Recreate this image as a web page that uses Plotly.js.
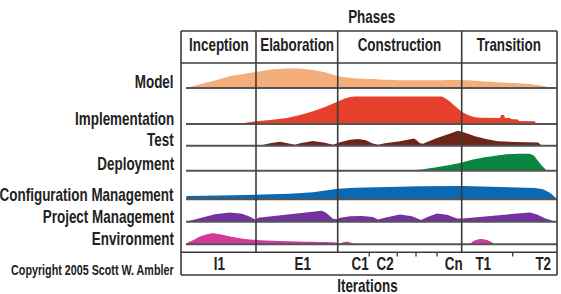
<!DOCTYPE html>
<html>
<head>
<meta charset="utf-8">
<script src="https://cdn.plot.ly/plotly-3.0.1.min.js"></script>
<style>html,body{margin:0;padding:0;background:#fff;}#chart{width:561px;height:294px;}</style>
</head>
<body>
<div id="chart"></div>
<script>
// ---------------- DATA ----------------
// timeline positions (project time units, 0..376) and effort heights per discipline
const disciplines = ['Model', 'Implementation', 'Test', 'Deployment', 'Configuration Management', 'Project Management', 'Environment'];

const modelX = [5, 20, 32, 50, 75, 90, 106, 120, 132, 145, 157, 170, 189, 217, 250, 280, 317, 350, 365, 371];
const modelY = [0, 4, 7, 12, 16, 18.5, 19.5, 19.3, 18, 15.5, 12, 10, 9, 7.8, 7.7, 8, 5.7, 3.7, 1.5, 0];

const implX = [56, 59, 75, 89, 106, 119, 132, 144, 157, 164, 169, 174, 261, 267, 274, 281, 287, 293, 299, 319, 320, 323, 324, 329, 330, 337, 338, 354, 355];
const implY = [0, 0.5, 2.7, 4, 6, 9, 12.7, 17, 22.7, 25.5, 27, 27.6, 27.6, 24, 18, 12, 9, 7, 6.3, 6, 9, 9, 6, 6, 5, 4.5, 3, 2.7, 0];

const testX = [65, 81, 89, 99, 109, 114, 119, 132, 144, 152, 159, 169, 177, 185, 191, 197, 204, 219, 233, 235, 239, 242, 254, 266, 277, 284, 294, 306, 317, 334, 357, 361];
const testY = [0, 0.5, 2.5, 4, 2, 1, 2.5, 4.7, 3, 1, 3.5, 6, 6.7, 5.5, 2.5, 1, 2.5, 4.5, 7.3, 6, 2.5, 2, 7, 11, 15, 13, 9.5, 6.5, 4.5, 3.7, 3.3, 0];

const deployX = [231, 249, 264, 281, 291, 301, 314, 324, 339, 349, 353, 357, 361, 366];
const deployY = [0, 2.5, 5, 8.3, 11, 13, 15, 16.3, 17, 16.8, 15, 10, 5, 0];

const configX = [5, 5.5, 39, 75, 109, 132, 149, 157, 174, 199, 239, 281, 299, 332, 354, 362, 369, 373, 376];
const configY = [0, 3.3, 3.8, 4.3, 5.5, 7, 9.5, 10.5, 11.5, 12.2, 13, 13.3, 12.8, 12, 11.3, 10, 6.5, 3, 0];

const pmX = [5, 19, 34, 49, 61, 69, 75, 77, 109, 137, 141, 145, 152, 156, 159, 169, 181, 192, 197, 206, 219, 231, 240, 247, 256, 266, 276, 282, 309, 334, 349, 356, 364, 372, 375];
const pmY = [0, 3.5, 7.5, 9.3, 8, 5, 1.7, 4, 7.5, 11, 11, 9, 3, 2.5, 4, 5.5, 5.7, 4.7, 2.3, 4.5, 7.3, 5.5, 1.7, 5, 8.3, 7, 3.3, 3.3, 5.5, 8, 9.3, 7.3, 3.5, 0.7, 0];

const envX = [5, 5.5, 12, 19, 26, 32, 39, 49, 62, 75, 99, 129, 155, 159, 163, 167, 172, 289, 293, 299, 305, 310, 313];
const envY = [0, 1, 4, 7.7, 10, 11, 10, 7.7, 5.5, 4.3, 3.3, 2.5, 1.7, 0.8, 2.2, 2.5, 0.8, 0.8, 3.5, 5.3, 4.5, 2.5, 0];

const phases = ['Inception', 'Elaboration', 'Construction', 'Transition'];
const phaseBounds = [0, 75, 156.7, 280.7, 376];

const iterLabels = ['I1', 'E1', 'C1', 'C2', 'Cn', 'T1', 'T2'];
const iterPos = [38, 121.7, 179, 204, 272, 302, 362];
const iterTicks = [188.3, 216.3, 235, 256, 331.7];

const chartTitle = 'Phases';
const xTitle = 'Iterations';
const copyright = 'Copyright 2005 Scott W. Ambler';

// ---------------- FONT ----------------
const FONT = '"Liberation Sans", Arial, sans-serif';
const FS = 17.5;            // font size (tall, condensed look)
const cv = document.createElement('canvas').getContext('2d');
cv.font = 'bold ' + FS + 'px ' + FONT;
const SX = Math.min(1, 174 / cv.measureText('Configuration Management').width);  // horizontal condensing

// ---------------- STYLE / LAYOUT ----------------
const colors = ['#F4AE7C', '#E5402B', '#6C2619', '#0B8642', '#0A69B2', '#7432A0', '#D43A9E'];
const lineShapes = ['spline', 'linear', 'linear', 'spline', 'linear', 'linear', 'spline'];
const seriesX = [modelX, implX, testX, deployX, configX, pmX, envX];
const seriesY = [modelY, implY, testY, deployY, configY, pmY, envY];

const W = 561, H = 294;
const L = 181, R = 557, T = 31, B = 275;
const PW = R - L, PH = B - T;
const px = p => (p - L) / PW;      // pixel -> paper x
const py = p => (B - p) / PH;      // pixel -> paper y
const rowBase = [88, 124, 145.7, 170.7, 199.3, 221.7, 244.3];
const labelY = [82, 119, 140, 164, 195, 216.5, 238.5];
const ROWH = 32;

const TXT = '#222';
const FRAME = '#3a3a3a';

const traces = seriesX.map((xs, i) => ({
  type: 'scatter', mode: 'lines', x: xs, y: seriesY[i],
  xaxis: 'x', yaxis: i === 0 ? 'y' : 'y' + (i + 1),
  fill: 'tozeroy', fillcolor: colors[i],
  line: {width: 0, color: colors[i], shape: lineShapes[i], smoothing: 0.6},
  hoverinfo: 'skip', name: disciplines[i]
}));

const layout = {
  width: W, height: H,
  margin: {l: L, r: W - R, t: T, b: H - B, pad: 0},
  paper_bgcolor: '#fff', plot_bgcolor: 'rgba(0,0,0,0)',
  showlegend: false,
  xaxis: {range: [0, PW], visible: false, fixedrange: true},
  shapes: [], annotations: []
};
rowBase.forEach((b, i) => {
  const key = i === 0 ? 'yaxis' : 'yaxis' + (i + 1);
  const d0 = py(b);
  layout[key] = {domain: [d0, Math.min(1, d0 + ROWH / PH)], range: [0, ROWH], visible: false, fixedrange: true};
});

function line(x0, y0, x1, y1, color, width) {
  layout.shapes.push({type: 'line', xref: 'paper', yref: 'paper', x0: px(x0), y0: py(y0), x1: px(x1), y1: py(y1),
    line: {color: color, width: width}, layer: 'above'});
}
rowBase.forEach(b => line(186, b, R, b, '#555', 2));
line(L, T, R, T, FRAME, 1.6);
line(L, 63, R, 63, FRAME, 1.6);
line(L, 252.3, R, 252.3, FRAME, 1.6);
line(L, B, R, B, FRAME, 1.6);
line(L, T, L, B, FRAME, 1.6);
line(R, T, R, B, FRAME, 1.6);
phaseBounds.slice(1, -1).forEach(v => line(L + v, T, L + v, 252.3, FRAME, 1.6));
iterTicks.forEach(v => line(L + v, 252.3, L + v, 256.5, FRAME, 1.3));

const anchors = [];
function ann(text, x, y, size, xanchor) {
  anchors.push(xanchor || 'center');
  layout.annotations.push({text: text, xref: 'paper', yref: 'paper', x: x, y: y,
    xanchor: xanchor || 'center', yanchor: 'middle', showarrow: false, borderpad: 0,
    font: {family: FONT, size: size, color: TXT, weight: 'bold'}});
}
disciplines.forEach((d, i) => ann(d, px(175), py(labelY[i]), FS, 'right'));
phases.forEach((p, i) => ann(p, px(L + (phaseBounds[i] + phaseBounds[i + 1]) / 2), py(45), FS));
iterLabels.forEach((t, i) => ann(t, px(L + iterPos[i]), py(264), FS));
ann(chartTitle, px(371.5), py(17), FS);
ann(xTitle, px(367), py(286), FS);
ann(copyright, px(10), py(270), 14, 'left');

Plotly.newPlot('chart', traces, layout, {staticPlot: true, displayModeBar: false}).then(gd => {
  // condense annotation text horizontally around its anchor
  gd.querySelectorAll('g.annotation').forEach(g => {
    const idx = +g.getAttribute('data-index');
    const t = g.querySelector('text.annotation-text');
    if (!t) return;
    const bb = t.getBBox();
    const a = anchors[idx];
    const ax = a === 'right' ? bb.x + bb.width : a === 'left' ? bb.x : bb.x + bb.width / 2;
    t.setAttribute('transform', 'translate(' + ax + ',0) scale(' + SX + ',1) translate(' + (-ax) + ',0)');
  });
});
</script>
</body>
</html>
